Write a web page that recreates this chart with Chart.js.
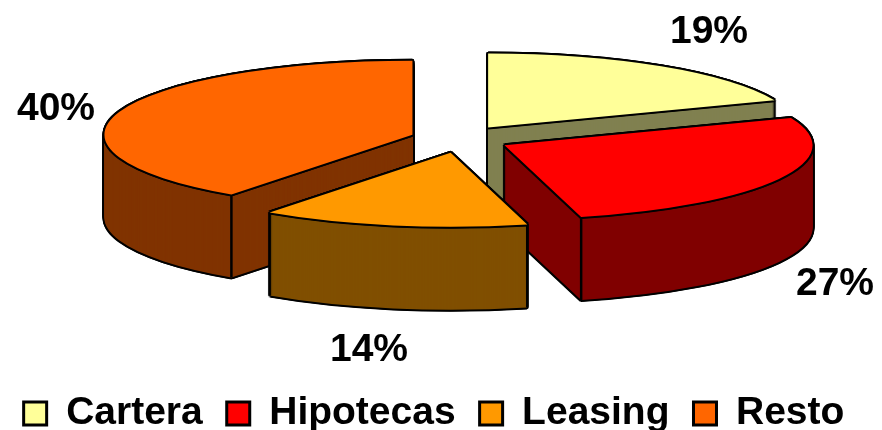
<!DOCTYPE html>
<html>
<head>
<meta charset="utf-8">
<script src="https://cdn.jsdelivr.net/npm/chart.js@4"></script>
<style>
  body { margin: 0; background: #fff; }
</style>
</head>
<body>
<canvas id="myChart" width="882" height="430"></canvas>
<script>
const categories = ['Cartera', 'Hipotecas', 'Leasing', 'Resto'];
const shares = [19, 27, 14, 40];
const topColors = ['#FFFF99', '#FF0000', '#FF9900', '#FF6600'];
const sideColors = ['#808050', '#800000', '#804F00', '#803300'];

// Where the percentages sit, one per slice
const shareLabelX = [709, 835, 369, 56];
const shareLabelY = [32, 284, 350, 109];

// Painted back to front
const drawOrder = [0, 1, 3, 2];

const centerX = 460;
const centerY = 139;
const radiusX = 308;
const radiusY = 74;
const depth = 83;
const explodeX = 50;
const explodeY = 14;
const legendDrop = 13;
const legendShift = -7;

const font = 'bold 39px "Liberation Sans"';

function sliceX(arc) {
  return centerX + Math.cos((arc.startAngle + arc.endAngle) / 2) * explodeX;
}

function sliceY(arc) {
  return centerY + Math.sin((arc.startAngle + arc.endAngle) / 2) * explodeY;
}

function paint(ctx, arc, color, x, y) {
  const saved = arc.options;
  const opts = Object.create(saved);
  opts.backgroundColor = color;
  arc.options = opts;
  ctx.save();
  ctx.translate(x, y);
  ctx.scale(radiusX / arc.outerRadius, radiusY / arc.outerRadius);
  ctx.translate(-arc.x, -arc.y);
  arc.draw(ctx);
  ctx.restore();
  arc.options = saved;
}

function paintOutline(ctx, arc, x, y) {
  [[-2, 0], [2, 0], [0, -2], [0, 2], [-1.5, -1.5], [1.5, -1.5], [-1.5, 1.5], [1.5, 1.5]].forEach(o => {
    paint(ctx, arc, '#000', x + o[0], y + o[1]);
  });
}

// Vertical edge at the front corners of a slice
function frontEdges(ctx, arc) {
  [arc.startAngle, arc.endAngle].forEach(angle => {
    if (Math.sin(angle) <= 0) return;
    const x = sliceX(arc) + Math.cos(angle) * radiusX;
    const y = sliceY(arc) + Math.sin(angle) * radiusY;
    ctx.beginPath();
    ctx.moveTo(x, y);
    ctx.lineTo(x, y + depth);
    ctx.strokeStyle = '#000';
    ctx.lineWidth = 2.5;
    ctx.stroke();
  });
}

const pie3d = {
  id: 'pie3d',
  afterLayout(chart) {
    chart.legend.top += legendDrop;
    chart.legend.left += legendShift;
    chart.legend.right += legendShift;
  },
  beforeDatasetsDraw(chart) {
    const ctx = chart.ctx;
    const arcs = chart.getDatasetMeta(0).data;
    drawOrder.forEach(i => {
      const arc = arcs[i];
      const x = sliceX(arc);
      const y = sliceY(arc);
      for (let d = depth; d >= 0; d--) paintOutline(ctx, arc, x, y + d);
      for (let d = depth; d >= 0; d--) paint(ctx, arc, sideColors[i], x, y + d);
      frontEdges(ctx, arc);
      paintOutline(ctx, arc, x, y);
      paint(ctx, arc, topColors[i], x, y);
    });
    return false;
  },
  afterDraw(chart) {
    const ctx = chart.ctx;
    ctx.save();
    ctx.font = font;
    ctx.fillStyle = '#000';
    ctx.textAlign = 'center';
    ctx.textBaseline = 'middle';
    shares.forEach((v, i) => ctx.fillText(v + '%', shareLabelX[i], shareLabelY[i]));
    ctx.restore();
  }
};

var myChart = new Chart(document.getElementById('myChart'), {
  type: 'pie',
  data: {
    labels: categories,
    datasets: [{
      data: shares,
      backgroundColor: topColors,
      borderWidth: 0
    }]
  },
  options: {
    responsive: false,
    animation: false,
    plugins: {
      tooltip: { enabled: false },
      legend: {
        position: 'bottom',
        labels: {
          boxWidth: 23,
          boxHeight: 23,
          padding: 24,
          color: '#000',
          font: { family: '"Liberation Sans"', size: 39, weight: 'bold' },
          generateLabels(chart) {
            const items = Chart.overrides.doughnut.plugins.legend.labels.generateLabels(chart);
            items.forEach(item => {
              item.strokeStyle = '#000';
              item.lineWidth = 3;
            });
            return items;
          }
        }
      }
    }
  },
  plugins: [pie3d]
});
</script>
</body>
</html>
